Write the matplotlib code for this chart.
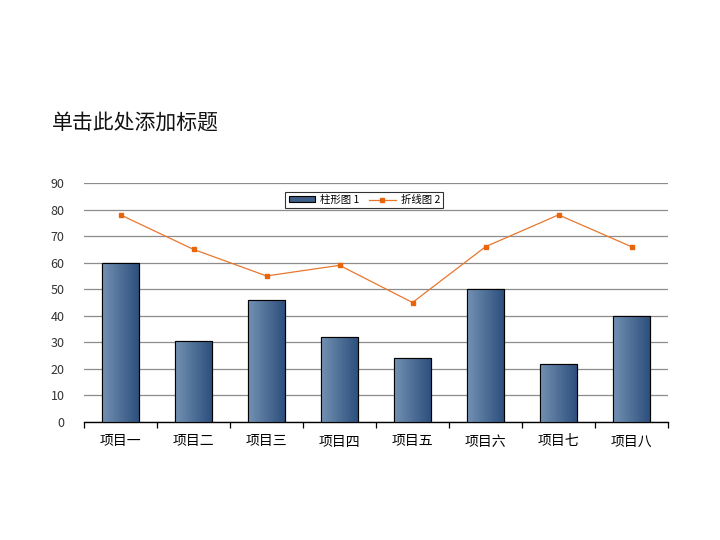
import matplotlib.pyplot as plt
import numpy as np
from matplotlib.colors import LinearSegmentedColormap

plt.rcParams['font.family'] = ['Noto Sans CJK SC', 'DejaVu Sans']

# データ
categories = ['项目一', '项目二', '项目三', '项目四', '项目五', '项目六', '项目七', '项目八']
bar_values = [60, 30.5, 46, 32, 24, 50, 22, 40]
line_values = [78, 65, 55, 59, 45, 66, 78, 66]
bar_label = '柱形图 1'
line_label = '折线图 2'
title = '单击此处添加标题'

fig = plt.figure(figsize=(7.2, 5.4), dpi=100)
ax = fig.add_axes([84 / 720, 118 / 540, 584 / 720, 239 / 540])

x = np.arange(len(categories))
bars = ax.bar(x, bar_values, width=0.5, color='#4a6d96', edgecolor='black',
              linewidth=0.8, zorder=3, label=bar_label)

# 棒にグラデーションを付ける
cmap = LinearSegmentedColormap.from_list('bar', ['#7391b3', '#2c4f7c'])
grad = np.linspace(0, 1, 256).reshape(1, -1)
for b in bars:
    bx, by = b.get_x(), b.get_y()
    w, h = b.get_width(), b.get_height()
    im = ax.imshow(grad, cmap=cmap, aspect='auto', extent=[bx, bx + w, by, by + h],
                   zorder=3.5, interpolation='bicubic')
    im.set_clip_path(b)
    ax.add_patch(plt.Rectangle((bx, by), w, h, fill=False, edgecolor='black',
                               linewidth=0.8, zorder=4))

line, = ax.plot(x, line_values, color='#e8772e', linewidth=0.9, marker='s', markersize=3.5,
                markeredgecolor='#e8650a', markerfacecolor='#e8650a', zorder=5, label=line_label)

ax.set_xlim(-0.5, len(categories) - 0.5)
ax.set_ylim(0, 90)
ax.set_yticks(np.arange(0, 91, 10))
ax.yaxis.grid(True, color='#8c8c8c', linewidth=0.9, zorder=0)
ax.set_axisbelow(True)
for s in ['top', 'right', 'left']:
    ax.spines[s].set_visible(False)
ax.spines['bottom'].set_linewidth(1.0)
ax.tick_params(axis='y', length=0, labelsize=9, colors='#333333', pad=14)

ax.set_xticks(x)
ax.set_xticklabels(categories, fontsize=10)
ax.tick_params(axis='x', length=0, pad=9)
ax.set_xticks(np.arange(-0.5, len(categories)), minor=True)
ax.tick_params(axis='x', which='minor', length=4, direction='out', width=0.9)

leg = ax.legend([bars, line], [bar_label, line_label], loc='upper center',
                bbox_to_anchor=(0.48, 0.985), ncol=2, fontsize=7.5,
                frameon=True, fancybox=False, edgecolor='black', handlelength=2.5,
                handleheight=0.5, columnspacing=1.0, borderpad=0.3, handletextpad=0.5)
leg.get_frame().set_linewidth(0.8)
leg.legend_handles[0].set_facecolor('#3d5f88')

fig.text(52 / 720, 1 - 123 / 540, title, fontsize=15, va='center', ha='left', color='#111111')

plt.savefig('out.png', dpi=100)
